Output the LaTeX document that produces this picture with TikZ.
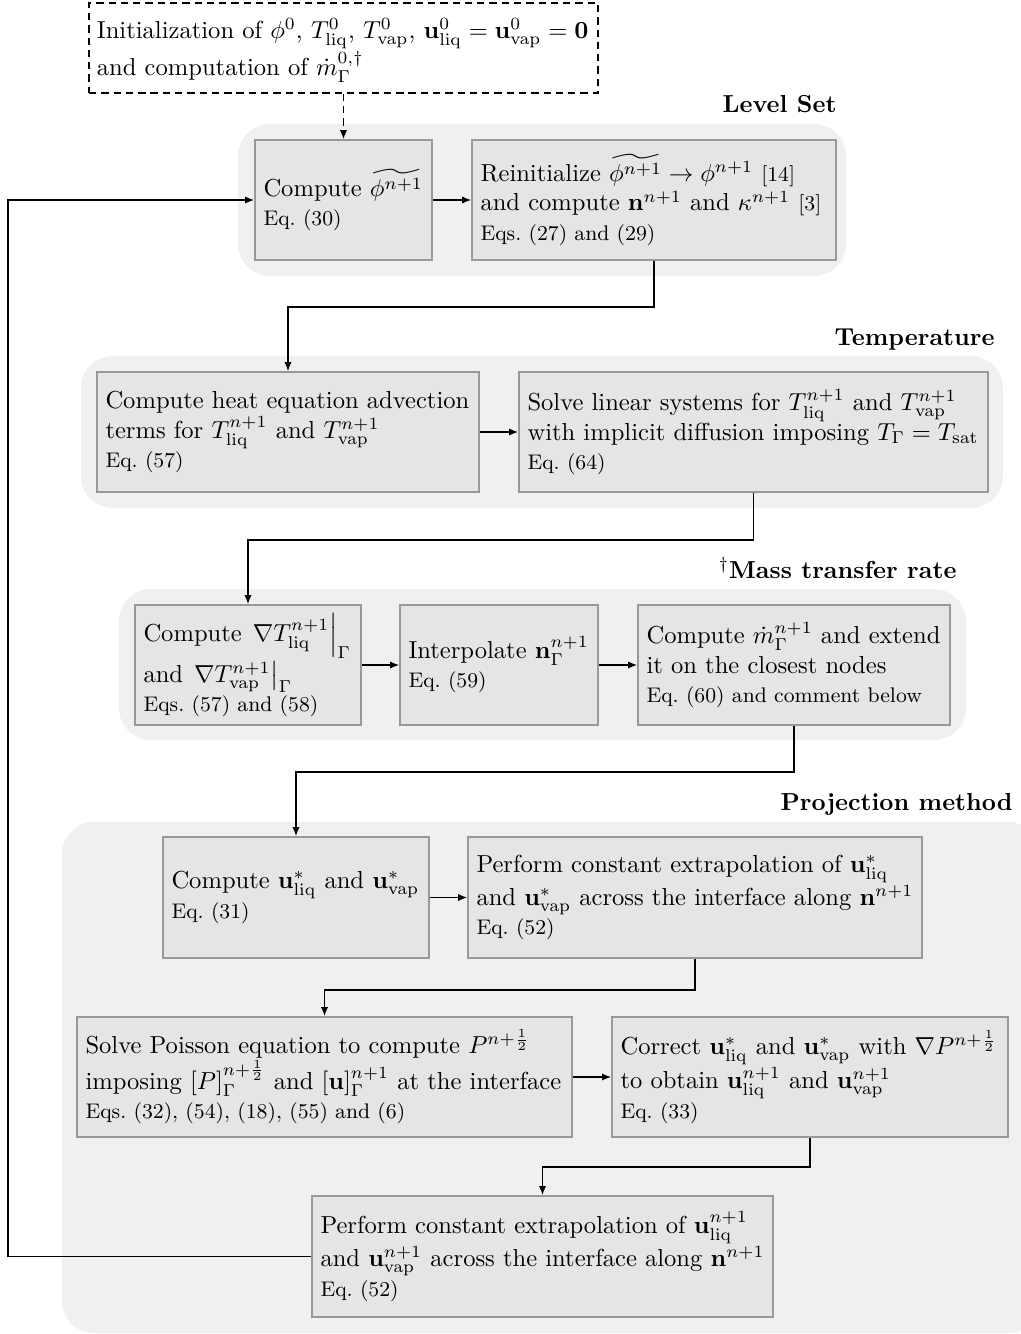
\documentclass[tikz,border=0pt]{standalone}
\usepackage{amsmath,amssymb}
\usetikzlibrary{arrows.meta,calc}
\definecolor{boxfill}{RGB}{229,229,229}
\definecolor{boxline}{RGB}{153,153,153}
\definecolor{grpfill}{RGB}{240,240,240}
\newcommand\li{\mathrm{liq}}
\newcommand\va{\mathrm{vap}}
\newcommand\pxu{0.407pt}
\newcommand\eqf{\fontsize{8.6pt}{10.5pt}\selectfont}
\newcommand\mybox[6]{%
  \node[stepbox, minimum width=#4*\pxu, minimum height=#5*\pxu] (#1) at (#2,#3) {};
  \node[txt] (#1t) at ([xshift=9*\pxu]#1.west) {#6};}
\begin{document}
\begin{tikzpicture}[x=\pxu,y=-\pxu,
  stepbox/.style={draw=boxline, fill=boxfill, line width=0.8pt, inner sep=0pt, rectangle},
  grp/.style={fill=grpfill, rounded corners=13pt, inner sep=0pt, rectangle},
  txt/.style={anchor=west, align=left, inner sep=0pt, font=\normalsize},
  lbl/.style={anchor=base east, inner sep=0pt, font=\bfseries},
  arr/.style={-{Latex[length=3.6pt,width=2.9pt]}, line width=0.45pt},
  ln/.style={line width=0.45pt}]
\useasboundingbox (0,0) rectangle (1021,1334);

% group backgrounds
\node[grp, minimum width=608*\pxu, minimum height=152*\pxu] (gLS) at (542,200) {};
\node[grp, minimum width=922*\pxu, minimum height=152*\pxu] (gT) at (542,432) {};
\node[grp, minimum width=847*\pxu, minimum height=151*\pxu] (gM) at (542.5,664.5) {};
\node[grp, minimum width=978*\pxu, minimum height=511*\pxu] (gP) at (551,1077.5) {};

% group labels
\node[lbl] (lLS) at (837,112) {Level Set};
\node[lbl] (lT) at (995,345) {Temperature};
\node[lbl] (lM) at (957,578) {$^\dagger$Mass transfer rate};
\node[lbl] (lP) at (1013,810) {Projection method};

% init
\node[draw, dash pattern=on 3pt off 2pt, line width=0.45pt, fill=white, inner sep=0pt, minimum width=509*\pxu, minimum height=90*\pxu] (init) at (343.5,48) {};
\node[txt] (initt) at ([xshift=8*\pxu, yshift=-1pt]init.west) {Initialization of $\phi^0$, $T^0_{\li}$, $T^0_{\va}$, $\mathbf{u}^0_{\li}=\mathbf{u}^0_{\va}=\mathbf{0}$\\ and computation of $\dot m_\Gamma^{0,\dagger}$};

% level set
\mybox{L1}{343.5}{200}{177}{120}{Compute $\widetilde{\phi^{n+1}}$\\ {\eqf Eq.~(30)}}
\mybox{L2}{654}{200}{364}{120}{Reinitialize $\widetilde{\phi^{n+1}}\rightarrow\phi^{n+1}$ {\eqf [14]}\\ and compute $\mathbf{n}^{n+1}$ and $\kappa^{n+1}$ {\eqf [3]}\\ {\eqf Eqs.~(27) and (29)}}

% temperature
\mybox{T1}{288}{432}{382}{120}{Compute heat equation advection\\ terms for $T^{n+1}_{\li}$ and $T^{n+1}_{\va}$\\ {\eqf Eq.~(57)}}
\mybox{T2}{753.5}{432}{469}{120}{Solve linear systems for $T^{n+1}_{\li}$ and $T^{n+1}_{\va}$\\ with implicit diffusion imposing $T_\Gamma=T_{\mathrm{sat}}$\\ {\eqf Eq.~(64)}}

% mass transfer
\mybox{M1}{248}{665}{226}{120}{Compute $\left.\nabla T^{n+1}_{\li}\right|_\Gamma$\\ and $\left.\nabla T^{n+1}_{\va}\right|_\Gamma$\\ {\eqf Eqs.~(57) and (58)}}
\mybox{M2}{499}{665}{198}{120}{Interpolate $\mathbf{n}^{n+1}_\Gamma$\\ {\eqf Eq.~(59)}}
\mybox{M3}{794}{665}{312}{120}{Compute $\dot m^{n+1}_\Gamma$ and extend\\ it on the closest nodes\\ {\eqf Eq.~(60) and comment below}}

% projection
\mybox{P1}{296}{897.5}{266}{121}{Compute $\mathbf{u}^*_{\li}$ and $\mathbf{u}^*_{\va}$\\ {\eqf Eq.~(31)}}
\mybox{P2}{695}{897.5}{454}{121}{Perform constant extrapolation of $\mathbf{u}^*_{\li}$\\ and $\mathbf{u}^*_{\va}$ across the interface along $\mathbf{n}^{n+1}$\\ {\eqf Eq.~(52)}}
\mybox{P3}{324.5}{1077}{495}{120}{Solve Poisson equation to compute $P^{n+\frac12}$\\ imposing $[P]_\Gamma^{n+\frac12}$ and $[\mathbf{u}]_\Gamma^{n+1}$ at the interface\\ {\eqf Eqs.~(32), (54), (18), (55) and (6)}}
\mybox{P4}{810}{1077}{396}{120}{Correct $\mathbf{u}^*_{\li}$ and $\mathbf{u}^*_{\va}$ with $\nabla P^{n+\frac12}$\\ to obtain $\mathbf{u}^{n+1}_{\li}$ and $\mathbf{u}^{n+1}_{\va}$\\ {\eqf Eq.~(33)}}
\mybox{P5}{542.5}{1256.5}{461}{121}{Perform constant extrapolation of $\mathbf{u}^{n+1}_{\li}$\\ and $\mathbf{u}^{n+1}_{\va}$ across the interface along $\mathbf{n}^{n+1}$\\ {\eqf Eq.~(52)}}

% turning coordinates
\coordinate (j1) at (0,307);
\coordinate (j2) at (0,540);
\coordinate (j3) at (0,772);
\coordinate (j4) at (0,990);
\coordinate (j5) at (0,1167);
\coordinate (lx) at (8,0);

% connectors
\draw[arr, dash pattern=on 3pt off 2pt] (init.south) -- (L1.north);
\draw[arr] (L1.east) -- (L2.west);
\draw[arr] (L2.south) -- (L2.south |- j1) -| (T1.north);
\draw[arr] (T1.east) -- (T2.west);
\draw[arr] (T2.south) -- (T2.south |- j2) -| (M1.north);
\draw[arr] (M1.east) -- (M2.west);
\draw[arr] (M2.east) -- (M3.west);
\draw[arr] (M3.south) -- (M3.south |- j3) -| (P1.north);
\draw[arr] (P1.east) -- (P2.west);
\draw[arr] (P2.south) -- (P2.south |- j4) -| (P3.north);
\draw[arr] (P3.east) -- (P4.west);
\draw[arr] (P4.south) -- (P4.south |- j5) -| (P5.north);
\draw[arr] (P5.west) -- (P5.west -| lx) |- (L1.west);
\end{tikzpicture}
\end{document}
